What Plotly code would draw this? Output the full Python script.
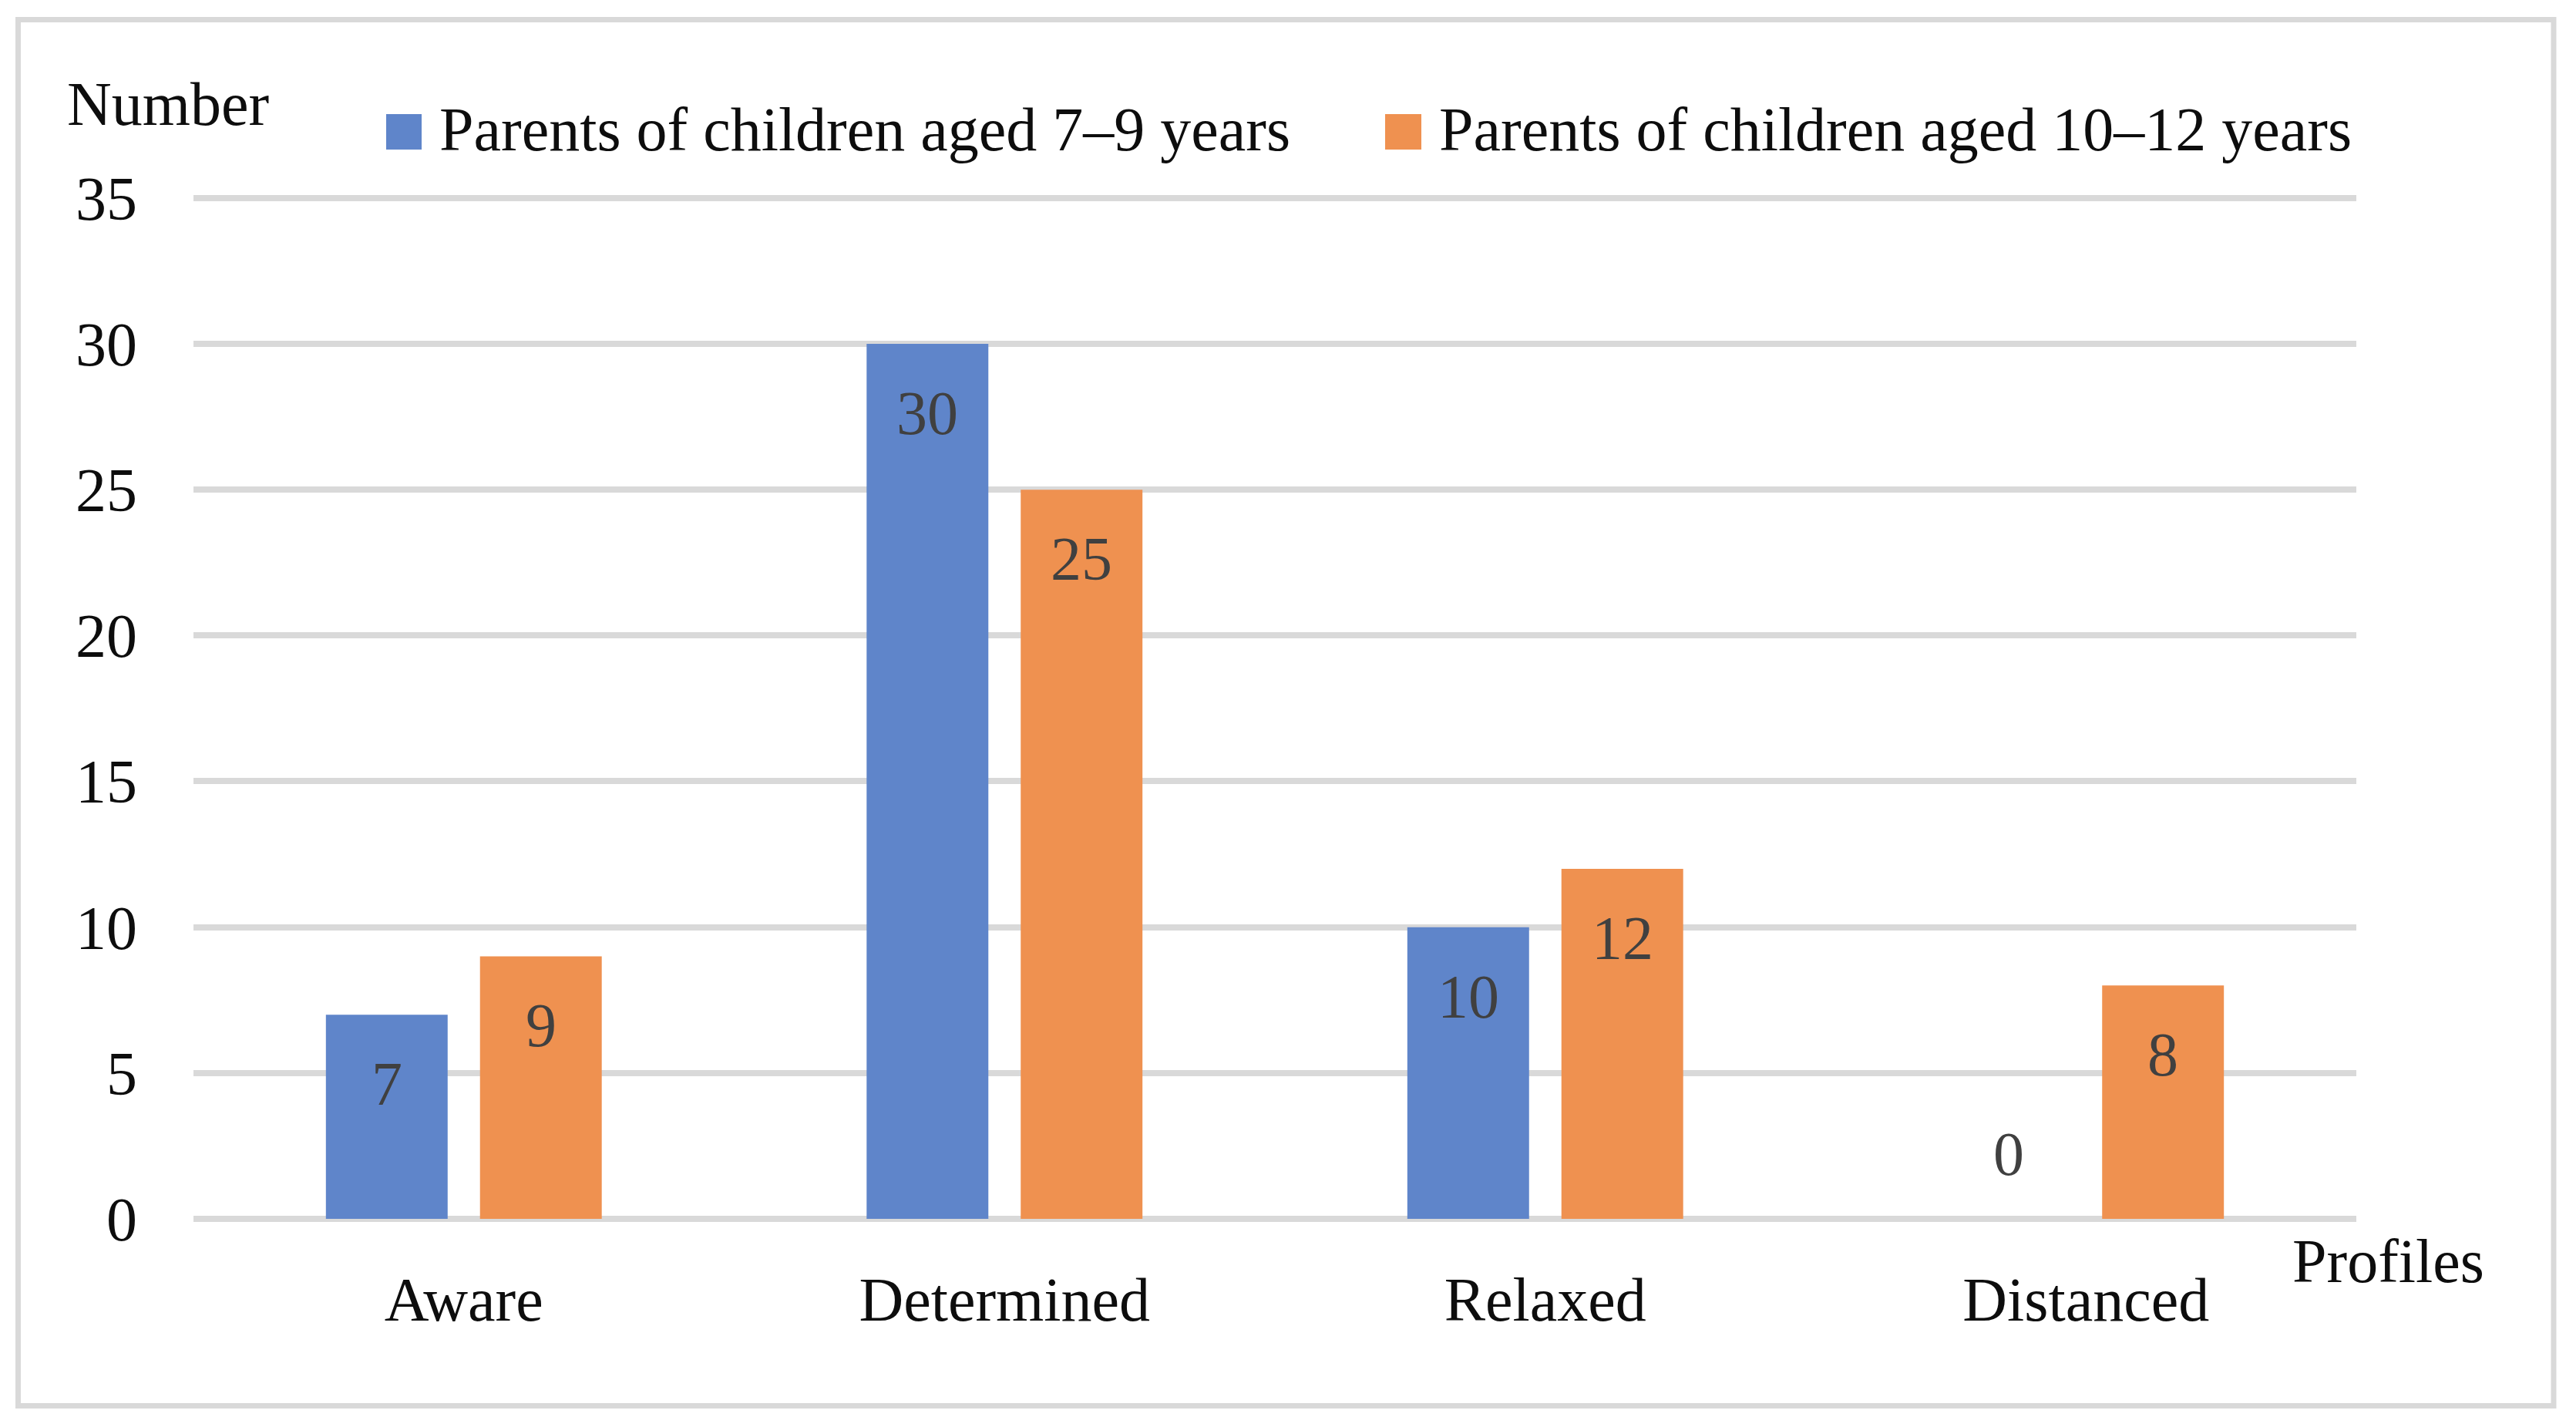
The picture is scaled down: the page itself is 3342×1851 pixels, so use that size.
import plotly.graph_objects as go

# ---- data ----
categories = ["Aware", "Determined", "Relaxed", "Distanced"]
series_names = ["Parents of children aged 7–9 years", "Parents of children aged 10–12 years"]
values_7_9 = [7, 30, 10, 0]
values_10_12 = [9, 25, 12, 8]
y_ticks = [0, 5, 10, 15, 20, 25, 30, 35]
y_title = "Number"
x_title = "Profiles"

# ---- style ----
PAGE_OFF = 8  # default body margin of the html page
Y_TOP = 35.1  # small headroom so the top gridline is drawn
W, H = 3342 - PAGE_OFF, 1851 - PAGE_OFF
PW = 2806
PH = round(1324 * Y_TOP / 35)
ML = 251 - PAGE_OFF
MT = 1581 - PAGE_OFF - PH
MR, MB = W - ML - PW, H - MT - PH
FONT = "Liberation Serif"
FS = 80
colors = ["#5F85CA", "#EF9150"]
GRID = "#D9D9D9"
TXT = "#0D0D0D"
LBL = "#404040"

# convert page pixel positions to paper coordinates
def px_x(x):
    return (x - PAGE_OFF - ML) / PW

def px_y(y):
    return (MT + PH - (y - PAGE_OFF)) / PH

series_values = [values_7_9, values_10_12]

fig = go.Figure()
for name, vals, col in zip(series_names, series_values, colors):
    fig.add_trace(go.Bar(x=categories, y=vals, name=name, marker_color=col,
                         marker_line_width=0, showlegend=False))

annotations = []
# data labels
slot_px = 200
for i, vals in enumerate(series_values):
    shift = (i - 0.5) * slot_px
    for c, v in zip(categories, vals):
        annotations.append(dict(
            x=c, y=v, xref="x", yref="y", text=str(v), showarrow=False,
            xshift=shift, yshift=(-90 if v > 0 else 84),
            xanchor="center", yanchor="middle",
            font=dict(family=FONT, size=FS, color=LBL)))

# manual legend
leg_sq = [(501, 547), (1797, 1844)]
leg_txt = [568, 1865]
shapes = []
for (x0, x1), tx, name, col in zip(leg_sq, leg_txt, series_names, colors):
    shapes.append(dict(type="rect", xref="paper", yref="paper",
                       x0=px_x(x0), x1=px_x(x1), y0=px_y(194), y1=px_y(148),
                       fillcolor=col, line_width=0))
    annotations.append(dict(x=px_x(tx), y=px_y(167.5), xref="paper", yref="paper",
                            text=name, showarrow=False, xanchor="left", yanchor="middle",
                            font=dict(family=FONT, size=FS, color=TXT)))

# axis titles
annotations.append(dict(x=px_x(85), y=px_y(135.5), xref="paper", yref="paper",
                        text=y_title, showarrow=False, xanchor="left", yanchor="middle",
                        font=dict(family=FONT, size=FS, color=TXT)))
annotations.append(dict(x=px_x(2972), y=px_y(1636.5), xref="paper", yref="paper",
                        text=x_title, showarrow=False, xanchor="left", yanchor="middle",
                        font=dict(family=FONT, size=FS, color=TXT)))

# outer border
shapes.append(dict(type="rect", xref="paper", yref="paper",
                   x0=px_x(23.5), x1=px_x(3313), y0=px_y(1823.5), y1=px_y(25.5),
                   line=dict(color=GRID, width=7), fillcolor="rgba(0,0,0,0)", layer="below"))

fig.update_layout(
    width=W, height=H,
    margin=dict(l=ML, r=MR, t=MT, b=MB, pad=0),
    paper_bgcolor="white", plot_bgcolor="white",
    barmode="group", bargap=0.43, bargroupgap=0.21,
    font=dict(family=FONT, size=FS, color=TXT),
    showlegend=False,
    annotations=annotations, shapes=shapes,
)
fig.update_xaxes(showgrid=False, showline=False, zeroline=False, ticks="",
                 tickfont=dict(family=FONT, size=FS, color=TXT), ticklabelstandoff=51)
fig.update_yaxes(range=[0, Y_TOP], tickvals=y_ticks, showgrid=True, gridcolor=GRID, gridwidth=7.5,
                 zeroline=True, zerolinecolor=GRID, zerolinewidth=7.5, showline=False, ticks="",
                 tickfont=dict(family=FONT, size=FS, color=TXT), ticklabelstandoff=72)

fig.write_html("out.html")
